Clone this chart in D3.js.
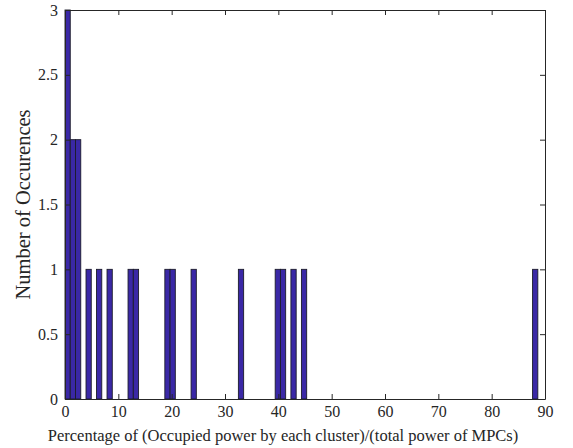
<!DOCTYPE html>
<html>
<head>
<meta charset="utf-8">
<script src="https://cdn.jsdelivr.net/npm/d3@7"></script>
<style>
  body { margin: 0; background: #fff; }
  text { font-family: "Liberation Serif", "Times New Roman", serif; fill: #262626; }
</style>
</head>
<body>
<div id="chart"></div>
<script>
// histogram bins (left edge, in %) and their counts
const binLeft = [0, 0.985, 1.97, 3.94, 5.91, 7.88, 11.82, 12.81, 18.72, 19.70, 23.64, 32.51, 39.41, 40.39, 42.36, 44.33, 87.67];
const binCount = [3, 2, 2, 1, 1, 1, 1, 1, 1, 1, 1, 1, 1, 1, 1, 1, 1];
const binWidth = 0.985;
const xTicks = [0, 10, 20, 30, 40, 50, 60, 70, 80, 90];
const yTicks = [0, 0.5, 1, 1.5, 2, 2.5, 3];

const bins = binLeft.map((d, i) => ({ x0: d, x1: d + binWidth, n: binCount[i] }));

const margin = { top: 10, right: 28, bottom: 49, left: 65 },
      width  = 573 - margin.left - margin.right,
      height = 448 - margin.top - margin.bottom;

const svg = d3.select("#chart").append("svg")
    .attr("width", 573)
    .attr("height", 448)
    .append("g")
    .attr("transform", `translate(${margin.left},${margin.top})`);

const x = d3.scaleLinear().domain([0, 90]).range([0, width]);
const y = d3.scaleLinear().domain([0, 3]).range([height, 0]);

// bars
svg.selectAll(".bar")
   .data(bins)
   .enter().append("rect")
   .attr("class", "bar")
   .attr("x", d => x(d.x0))
   .attr("y", d => y(d.n))
   .attr("width", d => x(d.x1) - x(d.x0))
   .attr("height", d => height - y(d.n))
   .attr("fill", "#3a28a6")
   .attr("stroke", "#1c1c2a")
   .attr("stroke-width", 0.9);

// axes, MATLAB style: ticks inward, box round the plot
const axisColor = "#262626";
function styleAxis(g) {
    g.attr("font-family", null);
    g.select(".domain").attr("stroke", axisColor);
    g.selectAll(".tick line").attr("stroke", axisColor);
    g.selectAll(".tick text")
     .style("font-family", "'Liberation Serif', 'Times New Roman', serif")
     .style("font-size", "16px")
     .attr("fill", axisColor);
}

svg.append("g")
   .attr("transform", `translate(0,${height})`)
   .call(d3.axisBottom(x).tickValues(xTicks).tickSize(-5).tickSizeOuter(0).tickPadding(7))
   .call(styleAxis);

svg.append("g")
   .call(d3.axisTop(x).tickValues(xTicks).tickSize(-5).tickSizeOuter(0).tickFormat(""))
   .call(styleAxis);

svg.append("g")
   .call(d3.axisLeft(y).tickValues(yTicks).tickSize(-5).tickSizeOuter(0).tickPadding(7).tickFormat(d3.format("")))
   .call(styleAxis);

svg.append("g")
   .attr("transform", `translate(${width},0)`)
   .call(d3.axisRight(y).tickValues(yTicks).tickSize(-5).tickSizeOuter(0).tickFormat(""))
   .call(styleAxis);

// axis titles
svg.append("text")
   .attr("x", 218)
   .attr("y", height + 42)
   .attr("text-anchor", "middle")
   .style("font-size", "16.5px")
   .text("Percentage of (Occupied power by each cluster)/(total power of MPCs)");

svg.append("text")
   .attr("transform", `translate(-35,${height / 2}) rotate(-90)`)
   .attr("text-anchor", "middle")
   .style("font-size", "20.5px")
   .text("Number of Occurences");
</script>
</body>
</html>
